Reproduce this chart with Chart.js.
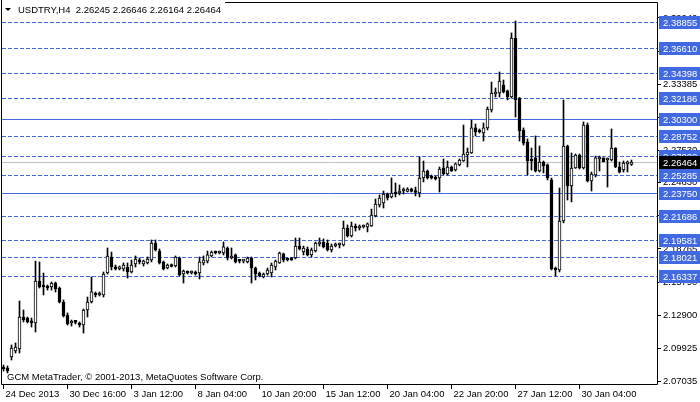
<!DOCTYPE html>
<html>
<head>
<meta charset="utf-8">
<script src="https://cdn.jsdelivr.net/npm/chart.js@4.4.1/dist/chart.umd.min.js"></script>
<style>
  html, body { margin: 0; padding: 0; background: #fff; }
</style>
</head>
<body>
<canvas id="chart" width="700" height="402"></canvas>
<script>
// USDTRY H4 candles
const opens = [
  2.0830, 2.0821, 2.0918, 2.0972, 2.0989, 2.1273, 2.1264, 2.1238, 2.1220, 2.1592,
  2.1557, 2.1539, 2.1539, 2.1574, 2.1530, 2.1406, 2.1291, 2.1220, 2.1229, 2.1220,
  2.1202, 2.1335, 2.1406, 2.1486, 2.1468, 2.1468, 2.1663, 2.1805, 2.1716, 2.1699,
  2.1699, 2.1716, 2.1672, 2.1743, 2.1769, 2.1743, 2.1752, 2.1778, 2.1929, 2.1858,
  2.1761, 2.1707, 2.1734, 2.1725, 2.1796, 2.1654, 2.1672, 2.1663, 2.1672, 2.1663,
  2.1752, 2.1769, 2.1814, 2.1849, 2.1840, 2.1840, 2.1885, 2.1796, 2.1823, 2.1769,
  2.1769, 2.1761, 2.1796, 2.1707, 2.1663, 2.1628, 2.1654, 2.1663, 2.1716, 2.1752,
  2.1832, 2.1787, 2.1796, 2.1796, 2.1902, 2.1849, 2.1876, 2.1823, 2.1858, 2.1920,
  2.1938, 2.1929, 2.1867, 2.1902, 2.1911, 2.1911, 2.2062, 2.1991, 2.2080, 2.2062,
  2.2071, 2.2071, 2.2080, 2.2168, 2.2266, 2.2284, 2.2363, 2.2337, 2.2372, 2.2372,
  2.2390, 2.2386, 2.2408, 2.2381, 2.2372, 2.2505, 2.2567, 2.2523, 2.2514, 2.2505,
  2.2594, 2.2541, 2.2603, 2.2576, 2.2621, 2.2656, 2.2709, 2.2727, 2.2949, 2.2922,
  2.2904, 2.2949, 2.3108, 2.3250, 2.3259, 2.3330, 2.3277, 2.3223, 2.3746, 2.3214,
  2.2931, 2.2824, 2.2674, 2.2683, 2.2567, 2.2647, 2.2621, 2.2488, 2.1707, 2.1690,
  2.2124, 2.2789, 2.2434, 2.2594, 2.2709, 2.2594, 2.2975, 2.2479, 2.2532, 2.2674,
  2.2683, 2.2665, 2.2665, 2.2771, 2.2603, 2.2576, 2.2630, 2.26245
];
const highs = [
  2.0847, 2.0839, 2.1025, 2.1043, 2.1415, 2.1335, 2.1273, 2.1264, 2.1769, 2.1761,
  2.1663, 2.1557, 2.1583, 2.1583, 2.1539, 2.1424, 2.1309, 2.1246, 2.1238, 2.1229,
  2.1344, 2.1450, 2.1628, 2.1495, 2.1495, 2.1672, 2.1885, 2.1849, 2.1734, 2.1725,
  2.1752, 2.1752, 2.1778, 2.1814, 2.1796, 2.1778, 2.1805, 2.1956, 2.1956, 2.1876,
  2.1769, 2.1743, 2.1743, 2.1814, 2.1805, 2.1690, 2.1681, 2.1681, 2.1681, 2.1805,
  2.1814, 2.1858, 2.1858, 2.1858, 2.1858, 2.1938, 2.1894, 2.1885, 2.1832, 2.1778,
  2.1778, 2.1805, 2.1805, 2.1716, 2.1672, 2.1663, 2.1707, 2.1752, 2.1778, 2.1849,
  2.1840, 2.1796, 2.1800, 2.1973, 2.1973, 2.1902, 2.1894, 2.1885, 2.1938, 2.1973,
  2.1965, 2.1956, 2.1920, 2.1929, 2.1929, 2.2124, 2.2089, 2.2115, 2.2098, 2.2089,
  2.2089, 2.2107, 2.2230, 2.2319, 2.2355, 2.2390, 2.2372, 2.2505, 2.2461, 2.2443,
  2.2417, 2.2419, 2.2416, 2.2425, 2.2691, 2.2656, 2.2576, 2.2532, 2.2523, 2.2603,
  2.2674, 2.2656, 2.2612, 2.2638, 2.2674, 2.2975, 2.2771, 2.3019, 2.2984, 2.2940,
  2.2993, 2.3135, 2.3356, 2.3303, 2.3445, 2.3374, 2.3285, 2.3791, 2.3897, 2.3219,
  2.2949, 2.2851, 2.2771, 2.2878, 2.2789, 2.2656, 2.2630, 2.2505, 2.1716, 2.2417,
  2.3197, 2.2797, 2.2727, 2.2718, 2.2718, 2.3002, 2.2993, 2.2558, 2.2700, 2.2700,
  2.2685, 2.2683, 2.2940, 2.2774, 2.2647, 2.2656, 2.2656, 2.26646
];
const lows = [
  2.0794, 2.0777, 2.0892, 2.0954, 2.0954, 2.1229, 2.1220, 2.1184, 2.1140, 2.1530,
  2.1468, 2.1512, 2.1512, 2.1495, 2.1397, 2.1273, 2.1202, 2.1193, 2.1211, 2.1184,
  2.1131, 2.1273, 2.1397, 2.1450, 2.1459, 2.1450, 2.1654, 2.1690, 2.1690, 2.1690,
  2.1681, 2.1619, 2.1663, 2.1716, 2.1743, 2.1725, 2.1743, 2.1761, 2.1858, 2.1743,
  2.1690, 2.1699, 2.1716, 2.1716, 2.1637, 2.1574, 2.1654, 2.1654, 2.1645, 2.1610,
  2.1734, 2.1752, 2.1805, 2.1832, 2.1832, 2.1823, 2.1778, 2.1787, 2.1752, 2.1752,
  2.1752, 2.1752, 2.1574, 2.1601, 2.1628, 2.1619, 2.1645, 2.1628, 2.1690, 2.1748,
  2.1761, 2.1769, 2.1774, 2.1787, 2.1867, 2.1823, 2.1814, 2.1805, 2.1849, 2.1902,
  2.1885, 2.1858, 2.1849, 2.1894, 2.1885, 2.1902, 2.1982, 2.1982, 2.2035, 2.2044,
  2.2062, 2.2027, 2.2076, 2.2160, 2.2248, 2.2239, 2.2310, 2.2328, 2.2337, 2.2355,
  2.2363, 2.2381, 2.2381, 2.2346, 2.2337, 2.2470, 2.2496, 2.2496, 2.2488, 2.2381,
  2.2532, 2.2532, 2.2563, 2.2567, 2.2612, 2.2652, 2.2603, 2.2723, 2.2878, 2.2904,
  2.2833, 2.2931, 2.3090, 2.3223, 2.3223, 2.3259, 2.3197, 2.3214, 2.3046, 2.2833,
  2.2797, 2.2532, 2.2576, 2.2558, 2.2558, 2.2550, 2.2488, 2.1690, 2.1637, 2.1672,
  2.2107, 2.2310, 2.2293, 2.2590, 2.2585, 2.2585, 2.2470, 2.2390, 2.2514, 2.2567,
  2.2647, 2.2425, 2.2656, 2.2597, 2.2550, 2.2558, 2.2558, 2.26164
];
const closes = [
  2.0812, 2.0794, 2.0998, 2.1007, 2.1273, 2.1246, 2.1229, 2.1220, 2.1592, 2.1539,
  2.1539, 2.1530, 2.1574, 2.1521, 2.1406, 2.1282, 2.1211, 2.1229, 2.1225, 2.1202,
  2.1335, 2.1406, 2.1495, 2.1468, 2.1486, 2.1654, 2.1814, 2.1716, 2.1699, 2.1707,
  2.1734, 2.1672, 2.1734, 2.1787, 2.1761, 2.1769, 2.1787, 2.1929, 2.1867, 2.1752,
  2.1699, 2.1734, 2.1721, 2.1805, 2.1645, 2.1681, 2.1663, 2.1672, 2.1654, 2.1761,
  2.1778, 2.1823, 2.1849, 2.1840, 2.1849, 2.1894, 2.1796, 2.1814, 2.1761, 2.1767,
  2.1774, 2.1796, 2.1707, 2.1654, 2.1637, 2.1654, 2.1690, 2.1734, 2.1769, 2.1840,
  2.1778, 2.1778, 2.1778, 2.1902, 2.1876, 2.1885, 2.1823, 2.1867, 2.1929, 2.1938,
  2.1894, 2.1867, 2.1902, 2.1916, 2.1916, 2.2062, 2.1991, 2.2080, 2.2062, 2.2071,
  2.2080, 2.2098, 2.2177, 2.2275, 2.2328, 2.2363, 2.2328, 2.2372, 2.2363, 2.2381,
  2.2399, 2.2408, 2.2386, 2.2377, 2.2505, 2.2567, 2.2505, 2.2505, 2.2496, 2.2585,
  2.2541, 2.2603, 2.2567, 2.2630, 2.2665, 2.2718, 2.2736, 2.2949, 2.2913, 2.2913,
  2.2949, 2.3117, 2.3259, 2.3259, 2.3365, 2.3268, 2.3223, 2.3746, 2.3197, 2.2922,
  2.2815, 2.2656, 2.2656, 2.2567, 2.2647, 2.2612, 2.2505, 2.1699, 2.1690, 2.2124,
  2.2789, 2.2434, 2.2594, 2.2709, 2.2594, 2.2975, 2.2479, 2.2541, 2.2683, 2.2678,
  2.2650, 2.2674, 2.2771, 2.2605, 2.2558, 2.2638, 2.2643, 2.26464
];

// one time label every 16 bars
const timeLabels = ['24 Dec 2013', '30 Dec 16:00', '3 Jan 12:00', '8 Jan 04:00', '10 Jan 20:00',
  '15 Jan 12:00', '20 Jan 04:00', '22 Jan 20:00', '27 Jan 12:00', '30 Jan 04:00'];
const barsPerLabel = 16;
const priceTicks = [2.39240, 2.36310, 2.33385, 2.30455, 2.27530, 2.24630, 2.21690,
  2.18765, 2.15790, 2.12900, 2.09925, 2.07035];

// horizontal level lines
const dashedLevels = [2.38855, 2.36610, 2.34398, 2.32186, 2.28752, 2.27002, 2.25285,
  2.21686, 2.19581, 2.18021, 2.16337];
const solidLevels = [2.30300, 2.23750];
const lastPrice = 2.26464;
const title = 'USDTRY,H4  2.26245 2.26646 2.26164 2.26464';
const footer = 'GCM MetaTrader, \u00a9 2001-2013, MetaQuotes Software Corp.';

const FONT = '"Liberation Sans", Arial, sans-serif';
const blue = '#4169e1';

const bars = opens.map((_, i) => i);
const wicks = bars.map(i => ({ x: i, y: [lows[i], highs[i]] }));
const bodies = bars.map(i => ({ x: i, y: [opens[i], closes[i]] }));
const bodyFill = bars.map(i => closes[i] > opens[i] ? '#fff' : '#000');

const noPad = s => { s.paddingTop = 0; s.paddingBottom = 0; s.paddingLeft = 0; s.paddingRight = 0; };

const levels = {
  id: 'levels',
  beforeDatasetsDraw(chart) {
    const { ctx, chartArea: a, scales: { y } } = chart;
    const hline = (v, color, dash) => {
      const py = Math.round(y.getPixelForValue(v)) + 0.5;
      ctx.strokeStyle = color;
      ctx.setLineDash(dash);
      ctx.beginPath(); ctx.moveTo(a.left, py); ctx.lineTo(a.right, py); ctx.stroke();
    };
    ctx.save();
    ctx.lineWidth = 1;
    hline(lastPrice, '#c0c0c0', []);
    dashedLevels.forEach(v => hline(v, blue, [4, 2]));
    solidLevels.forEach(v => hline(v, blue, []));
    ctx.restore();
  },
  afterDraw(chart) {
    const { ctx, chartArea: a, scales: { y } } = chart;
    ctx.save();
    // frame
    ctx.strokeStyle = '#000';
    ctx.lineWidth = 1;
    ctx.beginPath();
    ctx.moveTo(225, a.top - 0.5); ctx.lineTo(a.right + 0.5, a.top - 0.5);
    ctx.lineTo(a.right + 0.5, a.bottom + 0.5); ctx.lineTo(a.left - 0.5, a.bottom + 0.5);
    ctx.lineTo(a.left - 0.5, 0);
    ctx.stroke();

    // price boxes on the right
    ctx.font = '9.5px ' + FONT;
    ctx.textBaseline = 'middle';
    const box = (v, bg) => {
      const py = Math.round(y.getPixelForValue(v));
      ctx.fillStyle = bg;
      ctx.fillRect(a.right + 2, py - 6, 700 - a.right - 2, 13);
      ctx.fillStyle = '#fff';
      ctx.fillText(v.toFixed(5), a.right + 6, py + 1);
    };
    dashedLevels.concat(solidLevels).forEach(v => box(v, blue));
    box(lastPrice, '#000');

    // title and footer
    ctx.fillStyle = '#000';
    ctx.beginPath();
    ctx.moveTo(5, 8); ctx.lineTo(11, 8); ctx.lineTo(8, 11); ctx.closePath(); ctx.fill();
    ctx.fillText(title, 18, 10);
    ctx.fillText(footer, 7, 377);
    ctx.restore();
  }
};

new Chart(document.getElementById('chart'), {
  type: 'bar',
  data: {
    datasets: [
      { data: bodies, backgroundColor: bodyFill, borderColor: '#000', borderWidth: 1,
        borderSkipped: false, barThickness: 3, minBarLength: 2, grouped: false, order: 0 },
      { data: wicks, backgroundColor: '#000', borderWidth: 0,
        barThickness: 1, grouped: false, order: 1 }
    ]
  },
  options: {
    responsive: false,
    animation: false,
    devicePixelRatio: 1,
    layout: { autoPadding: false, padding: { top: 3, left: 2, right: 0, bottom: 0 } },
    plugins: { legend: { display: false }, tooltip: { enabled: false } },
    scales: {
      x: {
        type: 'linear',
        offset: false,
        min: -0.375, max: 163.375,
        afterBuildTicks: s => { s.ticks = timeLabels.map((_, k) => ({ value: k * barsPerLabel })); },
        afterFit: s => { s.height = 18; noPad(s); },
        grid: { drawOnChartArea: false, drawTicks: true, tickLength: 5, color: '#000', offset: false },
        border: { display: false },
        ticks: {
          autoSkip: false, maxRotation: 0, align: 'start', labelOffset: 2, padding: 0,
          color: '#000', font: { family: FONT, size: 9.5 },
          callback: v => timeLabels[v / barsPerLabel]
        }
      },
      y: {
        position: 'right',
        min: 2.06790, max: 2.40566,
        afterBuildTicks: s => { s.ticks = priceTicks.map(v => ({ value: v })); },
        afterFit: s => { s.width = 43; noPad(s); },
        grid: { drawOnChartArea: false, drawTicks: true, tickLength: 4, color: '#000' },
        border: { display: false },
        ticks: {
          padding: 2, color: '#000', font: { family: FONT, size: 9.5 },
          callback: v => v.toFixed(5)
        }
      }
    }
  },
  plugins: [levels]
});
</script>
</body>
</html>
